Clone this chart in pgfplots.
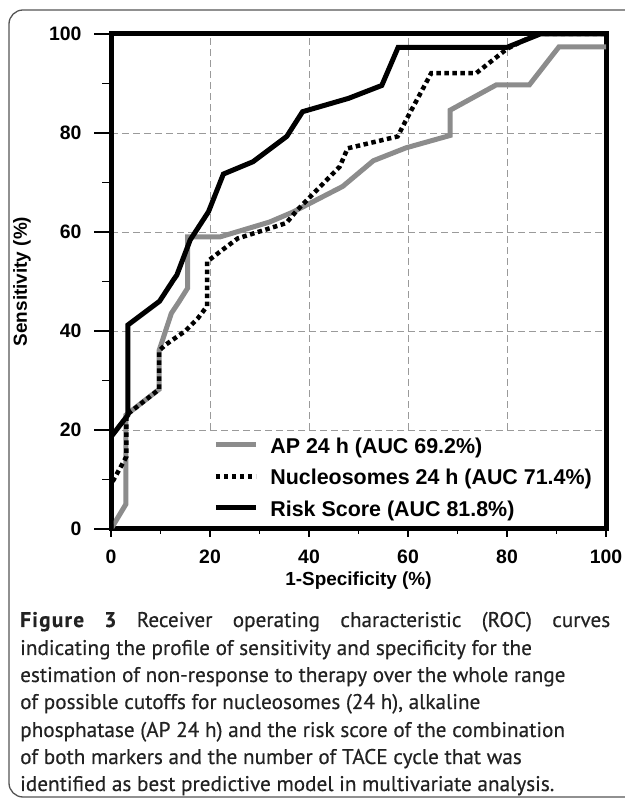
\documentclass[border=0pt]{standalone}
\usepackage{fontspec}
\setmainfont{Liberation Sans}
\newfontfamily\capfont[FakeBold=0.4]{PT Sans}
\usepackage{pgfplots}
\pgfplotsset{compat=1.18}
\definecolor{apgray}{HTML}{8C8C8C}
\definecolor{gridgray}{HTML}{9A9A9A}
\definecolor{framegray}{HTML}{555555}
\definecolor{captext}{HTML}{222222}
\begin{document}
\begin{tikzpicture}[x=1bp,y=1bp]
\useasboundingbox (0,0) rectangle (625,802);
\draw[framegray, line width=1.3bp, rounded corners=14bp] (9,5) rectangle (660,792);
\begin{axis}[
  at={(111bp,273bp)}, anchor=south west,
  scale only axis, width=495bp, height=495bp,
  xmin=0, xmax=100, ymin=0, ymax=100,
  xtick={0,20,...,100}, ytick={0,20,...,100},
  minor xtick={10,30,...,90}, minor ytick={10,30,...,90},
  xtick pos=bottom, ytick pos=left,
  tick align=outside,
  xtick style={/pgfplots/major tick length=8bp, /pgfplots/minor tick length=5bp, line width=1.5bp, black},
  ytick style={/pgfplots/major tick length=17bp, /pgfplots/minor tick length=9bp, line width=1.5bp, black},
  axis line style={line width=5bp, black},
  grid=major,
  major grid style={gridgray, line width=0.9bp, dash pattern=on 7bp off 4bp},
  minor grid style={draw=none},
  /pgf/number format/assume math mode=true,
  ticklabel style={font=\bfseries\fontsize{19.5}{19.5}\selectfont, inner sep=0pt},
  yticklabel style={xshift=-25bp},
  xticklabel style={yshift=-16bp},
  xlabel={1-Specificity (\%)},
  ylabel={Sensitivity (\%)},
  label style={font=\bfseries\fontsize{19}{19}\selectfont},
  xlabel style={at={(rel axis cs:0.5,-0.104)}, anchor=center},
  ylabel style={at={(rel axis cs:-0.18,0.5)}, anchor=center},
  legend cell align=left,
  legend image code/.code={\draw[#1] (0bp,0.33em) -- (40bp,0.33em);},
  legend style={at={(rel axis cs:1,0)}, anchor=south east, xshift=-2.5bp, yshift=2.5bp,
    draw=none, fill=white, inner xsep=11.5bp, inner ysep=5bp, row sep=11bp,
    font=\bfseries\fontsize{21.5}{21.5}\selectfont,
    nodes={inner sep=0pt, text height=15.5bp, text depth=5bp},
    /tikz/every odd column/.append style={column sep=12bp}},
]
\addplot[apgray, line width=5bp, line join=miter] coordinates {
(0,0)(3,5)(3,23)(9.7,28.2)(9.7,36)(12.2,43.6)(13.8,46)(15.5,48.7)(15.5,59)(22,59)(32,62)(36.7,64)(46.8,69.2)(53,74.4)(59.6,77)(68.5,79.5)(68.5,84.6)(77.8,89.7)(84.5,89.7)(90.5,97.4)(100,97.4)};
\addlegendentry{AP 24 h (AUC 69.2\%)}
\addplot[black, line width=4.5bp, dash pattern=on 4.5bp off 3.5bp] coordinates {
(0,0)(0,9)(3.1,14.6)(3.1,23)(9.7,28.2)(9.7,36)(11,37.2)(15,40)(17.5,42.5)(19.4,45)(19.4,54)(22,56)(25.6,58.7)(35.4,61.8)(37.6,64.4)(46.2,73.2)(47.8,76.9)(57.9,79.3)(59.6,82.6)(64.7,92.1)(73.8,92.1)(80,97)(86,100)(100,100)};
\addlegendentry{Nucleosomes 24 h (AUC 71.4\%)}
\addplot[black, line width=5bp] coordinates {
(0,0)(0,18.6)(3.4,23)(3.4,41.2)(9.8,46)(12.6,50.3)(13.3,51.3)(16,58.4)(19.7,64.1)(22.7,71.7)(28.7,74.2)(35.5,79.3)(38.7,84.3)(48,87)(54.7,89.6)(58,97.3)(80,97.3)(86.7,100)(100,100)};
\addlegendentry{Risk Score (AUC 81.8\%)}
\end{axis}
\begin{scope}[every node/.style={anchor=base west, inner sep=0pt, font=\capfont\fontsize{21.3}{21.3}\selectfont, text=captext}]
\node at (20,175) {\makebox[590bp]{{\bfseries\addfontfeature{LetterSpace=6}Figure}\hfill{\bfseries 3}\hfill Receiver\hfill operating\hfill characteristic\hfill (ROC)\hfill curves}};
\node at (20,147) {indicating the profile of sensitivity and specificity for the};
\node at (20,120) {estimation of non-response to therapy over the whole range};
\node at (20,93) {of possible cutoffs for nucleosomes (24 h), alkaline};
\node at (20,65) {phosphatase (AP 24 h) and the risk score of the combination};
\node at (20,38) {of both markers and the number of TACE cycle that was};
\node at (20,11) {identified as best predictive model in multivariate analysis.};
\end{scope}
\end{tikzpicture}
\end{document}
